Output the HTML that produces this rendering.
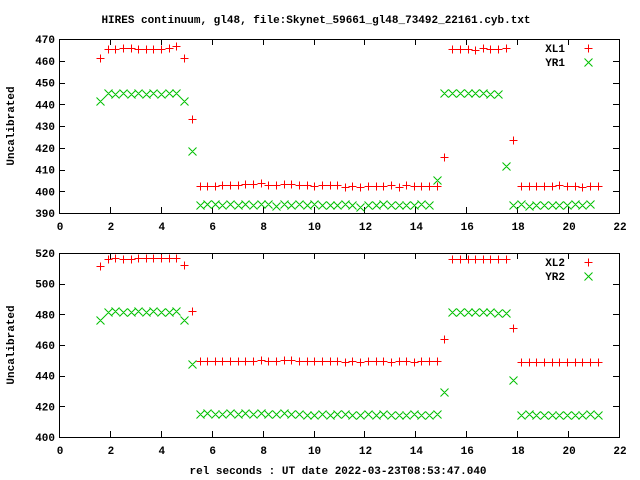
<!DOCTYPE html>
<html><head><meta charset="utf-8"><style>
body{margin:0;background:#fff;}
svg{display:block;}
text{font-family:"Liberation Mono","DejaVu Sans Mono",monospace;font-size:11px;font-weight:bold;fill:#000;}
</style></head><body>
<svg id="chart" width="640" height="480" xmlns="http://www.w3.org/2000/svg">
<text x="316" y="23" text-anchor="middle">HIRES continuum, gl48, file:Skynet_59661_gl48_73492_22161.cyb.txt</text>
<text x="338" y="474" text-anchor="middle">rel seconds : UT date 2022-03-23T08:53:47.040</text>
<g id="p1"></g>
<g id="p2"></g>
</svg>
<script>
const times=[1.61,1.91,2.21,2.51,2.81,3.11,3.41,3.71,4.01,4.31,4.61,4.92,5.22,5.52,5.82,6.12,6.42,6.72,7.02,7.32,7.62,7.92,8.22,8.53,8.83,9.13,9.43,9.73,10.03,10.33,10.63,10.93,11.23,11.53,11.83,12.14,12.44,12.74,13.04,13.34,13.64,13.94,14.24,14.54,14.84,15.14,15.44,15.75,16.05,16.35,16.65,16.95,17.25,17.55,17.85,18.15,18.45,18.75,19.05,19.36,19.66,19.96,20.26,20.56,20.86,21.16];
const xl1=[461.3,465.2,465.5,465.9,465.9,465.5,465.5,465.5,465.5,465.9,466.7,461.3,433.2,
402.3,402.3,402.3,402.7,402.7,402.7,403.2,403.2,403.9,403.0,403.0,403.4,403.4,402.7,402.7,402.5,402.7,402.7,402.7,401.8,402.6,402.0,402.3,402.3,402.5,402.7,402.0,402.7,402.5,402.5,402.5,402.5,
415.8,465.6,465.6,465.6,465.0,465.8,465.6,465.6,465.8,423.5,
402.5,402.5,402.5,402.5,402.5,402.8,402.5,402.5,402.0,402.5,402.5,402.5,402.8];
const yr1=[441.3,445.0,444.6,445.0,444.6,445.2,444.8,445.0,444.6,445.0,445.4,441.3,418.7,
393.5,394.2,394.0,393.8,394.0,393.8,394.0,393.8,394.0,394.2,393.4,394.0,393.8,394.0,393.8,394.0,393.8,393.6,393.8,394.0,393.5,392.8,393.5,393.8,394.0,393.6,393.8,393.6,393.8,394.0,393.6,
405.2,445.0,445.4,445.0,445.2,445.0,445.2,444.8,444.6,411.7,
393.8,394.0,393.4,393.6,393.8,393.6,393.5,393.8,394.0,393.8,394.0].slice(0,66);
const xl2=[511.4,516.4,516.6,516.2,516.2,516.6,516.6,517.0,516.6,517.0,516.6,512.0,482.5,
449.6,449.6,449.6,449.8,449.5,449.8,449.8,449.8,450.2,449.8,449.8,450.2,450.5,449.6,449.6,449.4,449.4,449.4,449.4,449.0,449.4,449.0,449.6,449.8,449.4,449.2,449.6,449.6,449.2,449.6,449.6,449.4,
464.0,515.8,516.0,515.8,515.8,515.8,516.0,515.8,516.2,471.2,
448.8,449.2,449.2,449.2,449.2,448.8,449.2,449.2,449.2,449.2,449.2].slice(0,66);
const yr2=[476.0,481.5,482.0,481.5,481.8,482.4,481.8,482.2,481.8,481.8,482.0,476.5,447.7,
415.0,415.4,415.0,415.0,415.4,415.0,415.4,415.0,415.4,415.0,415.0,415.4,415.0,415.0,414.6,414.6,415.0,414.6,415.0,415.0,414.6,414.6,415.0,414.6,415.0,414.6,414.6,414.6,415.0,414.6,414.6,414.8,
429.5,481.4,481.4,481.8,481.4,481.4,481.4,481.0,481.0,437.5,
414.6,414.8,414.4,414.4,414.6,414.4,414.4,414.6,414.6,414.8,414.6];
const xTicks=[0,2,4,6,8,10,12,14,16,18,20,22];
const yTicks1=[390,400,410,420,430,440,450,460,470];
const yTicks2=[400,420,440,460,480,500,520];

const NS="http://www.w3.org/2000/svg";
const L=59,R=619;
function mk(tag,attrs,parent){const e=document.createElementNS(NS,tag);for(const k in attrs)e.setAttribute(k,attrs[k]);parent.appendChild(e);return e;}
function panel(g,top,bot,ymin,ymax,yTicks,s1,s2,n1,n2){
  const sx=v=>L+(v-0)/(22-0)*(R-L);
  const sy=v=>bot-(v-ymin)/(ymax-ymin)*(bot-top);
  const fr=mk('rect',{x:L+0.5,y:top+0.5,width:R-L,height:bot-top,fill:'none',stroke:'#000','stroke-width':1,'shape-rendering':'crispEdges'},g);
  
  
  xTicks.forEach(t=>{const x=Math.round(sx(t))+0.5;
    const tk=mk('path',{d:`M${x} ${bot}v-6M${x} ${top}v6`,stroke:'#000','shape-rendering':'crispEdges'},g);
    
    
    const tl=mk('text',{x:sx(t)+1,y:bot+17,'text-anchor':'middle'},g);tl.textContent=t;
    
    });
  yTicks.forEach(t=>{const y=Math.round(sy(t))+0.5;
    const tk=mk('path',{d:`M${L} ${y}h6M${R} ${y}h-6`,stroke:'#000','shape-rendering':'crispEdges'},g);
    
    
    const tl=mk('text',{x:L-4,y:sy(t)+4,'text-anchor':'end'},g);tl.textContent=t;
    
    });
  const yl=mk('text',{x:0,y:0,'text-anchor':'middle',transform:`translate(14,${(top+bot)/2}) rotate(-90)`},g);yl.textContent='Uncalibrated';
  
  
  const plus=(x,y)=>`M${x-4} ${y}h8M${x} ${y-4}v8`;
  const cross=(x,y)=>`M${x-4} ${y-4}l8 8M${x-4} ${y+4}l8 -8`;
  let d1='',d2='';
  times.forEach((t,i)=>{const x=Math.round(sx(t))+0.5;
    if(s1[i]!==undefined)d1+=plus(x,Math.round(sy(s1[i]))+0.5);
    if(s2[i]!==undefined)d2+=cross(x,Math.round(sy(s2[i]))+0.5);});
  const p1=mk('path',{d:d1,stroke:'#ff0000',fill:'none'},g);
  
  
  const p2=mk('path',{d:d2,stroke:'#00c000',fill:'none'},g);
  
  
  const lt1=mk('text',{x:565,y:top+13,'text-anchor':'end'},g);lt1.textContent=n1;
  
  
  const lt2=mk('text',{x:565,y:top+27,'text-anchor':'end'},g);lt2.textContent=n2;
  
  
  const lm=mk('path',{d:plus(588.5,top+9.5),stroke:'#ff0000',fill:'none'},g);
  
  
  const lm2=mk('path',{d:cross(588.5,top+23.5),stroke:'#00c000',fill:'none'},g);
  
  
}
panel(document.getElementById('p1'),39,213,390,470,yTicks1,xl1,yr1,'XL1','YR1');
panel(document.getElementById('p2'),253,437,400,520,yTicks2,xl2,yr2,'XL2','YR2');
</script>
</body></html>
